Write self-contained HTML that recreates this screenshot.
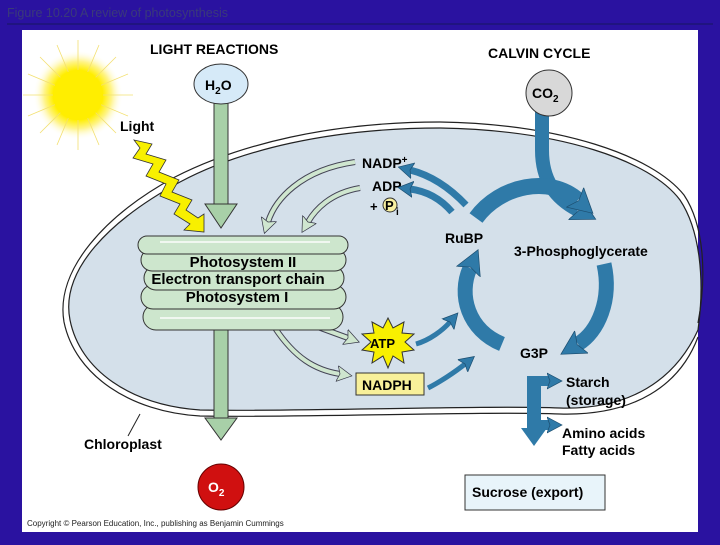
<!DOCTYPE html>
<html><head><meta charset="utf-8"><style>
body{margin:0;width:720px;height:540px;background:#2a12a0;overflow:hidden;font-family:"Liberation Sans",Arial,sans-serif}
</style></head><body>
<svg width="720" height="540" viewBox="0 0 720 540" xmlns="http://www.w3.org/2000/svg" font-family="Liberation Sans, Arial, sans-serif">
<defs>
<radialGradient id="sun"><stop offset="0.55" stop-color="#ffee00"/><stop offset="0.75" stop-color="#fff48a"/><stop offset="1" stop-color="#ffffff" stop-opacity="0"/></radialGradient>
<marker id="bh" markerUnits="userSpaceOnUse" markerWidth="30" markerHeight="30" refX="4" refY="15" orient="auto"><path d="M0,2 L24,15 L0,28 L5,15Z" fill="#2f7aa8" stroke="#1c4e70" stroke-width="0.7"/></marker>
<marker id="sh" markerUnits="userSpaceOnUse" markerWidth="18" markerHeight="18" refX="3" refY="9" orient="auto"><path d="M0,1 L15,9 L0,17 L3,9Z" fill="#2f7aa8" stroke="#1c4e70" stroke-width="0.7"/></marker>
<marker id="gh" markerUnits="userSpaceOnUse" markerWidth="18" markerHeight="18" refX="3" refY="9" orient="auto"><path d="M0,1 L15,9 L0,17 L3,9Z" fill="#cfe6cf" stroke="#334" stroke-width="0.7"/></marker>
</defs>
<rect width="720" height="540" fill="#2a12a0"/>
<text x="7" y="17" font-size="12.5" fill="#3a3a7a">Figure 10.20  A review of photosynthesis</text>
<line x1="7" y1="24" x2="713" y2="24" stroke="#161660" stroke-width="1"/>
<rect x="22" y="30" width="676" height="502" fill="#fff"/>
<circle cx="78" cy="95" r="45" fill="url(#sun)"/>
<g stroke="#f3e070" stroke-width="0.8">
<line x1="78" y1="40" x2="78" y2="150"/><line x1="23" y1="95" x2="133" y2="95"/>
<line x1="40" y1="57" x2="116" y2="133"/><line x1="116" y1="57" x2="40" y2="133"/>
<line x1="57" y1="45" x2="99" y2="145"/><line x1="99" y1="45" x2="57" y2="145"/>
<line x1="28" y1="74" x2="128" y2="116"/><line x1="128" y1="74" x2="28" y2="116"/>
</g>
<circle cx="78" cy="95" r="25" fill="#ffee00"/>
<path d="M698,330 C705,280 700,230 680,200 C650,160 560,130 440,128 C330,128 240,150 180,182 C110,220 60,270 70,320 C80,370 130,405 200,410 C300,412 480,405 560,408 C630,410 675,380 698,330 Z" fill="#d4e0ea"/>
<path d="M698,323 C707,275 704,225 684,195 C652,155 560,124 440,122 C330,122 240,144 175,177 C105,215 55,270 64,322 C75,375 130,412 200,416 C300,418 480,411 560,414 C635,416 680,385 698,337" fill="none" stroke="#222" stroke-width="1.2"/>
<path d="M698,330 C705,280 700,230 680,200 C650,160 560,130 440,128 C330,128 240,150 180,182 C110,220 60,270 70,320 C80,370 130,405 200,410 C300,412 480,405 560,408 C630,410 675,380 698,330" fill="none" stroke="#222" stroke-width="1.2"/>
<line x1="140" y1="414" x2="128" y2="436" stroke="#222" stroke-width="1"/>
<text x="84" y="449" font-size="14" font-weight="bold">Chloroplast</text>
<text x="150" y="54" font-size="14" font-weight="bold">LIGHT REACTIONS</text>
<text x="488" y="58" font-size="14" font-weight="bold">CALVIN CYCLE</text>
<rect x="214" y="100" width="14" height="105" fill="#a8d0a8" stroke="#333"/>
<path d="M205,204 L237,204 L221,228Z" fill="#a8d0a8" stroke="#333"/>
<ellipse cx="221" cy="84" rx="27" ry="20" fill="#d6eaf8" stroke="#333"/>
<text x="205" y="90" font-size="14" font-weight="bold">H<tspan font-size="10" dy="4">2</tspan><tspan dy="-4">O</tspan></text>
<rect x="214" y="325" width="14" height="95" fill="#a8d0a8" stroke="#333"/>
<path d="M205,418 L237,418 L221,440Z" fill="#a8d0a8" stroke="#333"/>
<circle cx="221" cy="487" r="23" fill="#d01010" stroke="#600"/>
<text x="208" y="492" font-size="14" font-weight="bold" fill="#fff">O<tspan font-size="10" dy="4">2</tspan></text>
<text x="120" y="131" font-size="14" font-weight="bold">Light</text>
<path d="M134,140 L152,144 L146,154 L166,160 L159,172 L179,180 L172,192 L192,200 L186,210 L198,218 L204,214 L204,232 L184,230 L190,224 L174,214 L180,204 L160,196 L166,184 L146,176 L153,164 L133,158 L140,148 Z" fill="#f8f000" stroke="#333" stroke-width="0.8"/>
<g fill="none" stroke-linecap="butt">
<path d="M355,162 C300,170 275,200 268,222" stroke="#445" stroke-width="6"/>
<path d="M355,162 C300,170 275,200 268,222" stroke="#cfe6cf" stroke-width="4" marker-end="url(#gh)"/>
<path d="M360,188 C330,193 315,210 308,222" stroke="#445" stroke-width="6"/>
<path d="M360,188 C330,193 315,210 308,222" stroke="#cfe6cf" stroke-width="4" marker-end="url(#gh)"/>
<path d="M318,327 L348,338" stroke="#445" stroke-width="6"/>
<path d="M318,327 L348,338" stroke="#cfe6cf" stroke-width="4" marker-end="url(#gh)"/>
<path d="M275,328 C295,358 315,370 340,374" stroke="#445" stroke-width="6"/>
<path d="M275,328 C295,358 315,370 340,374" stroke="#cfe6cf" stroke-width="4" marker-end="url(#gh)"/>
</g>
<g fill="#cde6cd" stroke="#333" stroke-width="1">
<rect x="143" y="304" width="200" height="26" rx="13"/>
<rect x="141" y="285" width="205" height="24" rx="12"/>
<rect x="144" y="266" width="200" height="24" rx="12"/>
<rect x="141" y="249" width="205" height="22" rx="11"/>
<rect x="138" y="236" width="210" height="18" rx="9"/>
</g>
<g stroke="#fff" stroke-width="2" opacity="0.7"><line x1="160" y1="242" x2="330" y2="242"/><line x1="160" y1="318" x2="330" y2="318"/></g>
<text x="243" y="267" font-size="15" font-weight="bold" text-anchor="middle">Photosystem II</text>
<text x="238" y="284" font-size="15" font-weight="bold" text-anchor="middle">Electron transport chain</text>
<text x="237" y="302" font-size="15" font-weight="bold" text-anchor="middle">Photosystem I</text>
<text x="362" y="168" font-size="14" font-weight="bold">NADP<tspan font-size="10" dy="-5">+</tspan></text>
<text x="372" y="191" font-size="14" font-weight="bold">ADP</text>
<text x="370" y="211" font-size="13" font-weight="bold">+</text>
<circle cx="390" cy="205" r="7" fill="#f8f0a0" stroke="#333"/>
<text x="385" y="210" font-size="13" font-weight="bold">P</text>
<text x="396" y="215" font-size="10" font-weight="bold">i</text>
<polygon points="388,318 393,328 404,322 402,333 414,334 405,342 414,350 402,352 404,363 393,356 388,368 383,356 372,363 374,352 362,350 371,342 362,334 374,333 372,322 383,328" fill="#f8f000" stroke="#333"/>
<text x="370" y="348" font-size="13" font-weight="bold">ATP</text>
<rect x="356" y="373" width="68" height="22" fill="#f8f09a" stroke="#333"/>
<text x="362" y="390" font-size="14" font-weight="bold">NADPH</text>
<g fill="none" stroke="#2f7aa8">
<path d="M542,100 L542,150 C542,180 555,198 578,210" stroke-width="14" marker-end="url(#bh)"/>
<path d="M476,218 C500,185 550,175 578,200" stroke-width="16" marker-end="url(#bh)"/>
<path d="M604,264 C612,300 598,332 578,344" stroke-width="15" marker-end="url(#bh)"/>
<path d="M502,344 C468,330 458,295 470,268" stroke-width="15" marker-end="url(#bh)"/>
<path d="M466,205 C448,186 430,175 410,170" stroke-width="7" marker-end="url(#sh)"/>
<path d="M452,212 C440,198 426,191 410,189" stroke-width="7" marker-end="url(#sh)"/>
<path d="M416,344 C430,340 443,330 450,322" stroke-width="5" marker-end="url(#sh)"/>
<path d="M428,388 C440,382 455,372 465,364" stroke-width="5" marker-end="url(#sh)"/>
<path d="M534,376 L534,428" stroke-width="14"/>
<path d="M540,381 L550,381" stroke-width="10" marker-end="url(#sh)"/>
<path d="M540,425 L550,425" stroke-width="10" marker-end="url(#sh)"/>
</g>
<path d="M521,428 L547,428 L534,446Z" fill="#2f7aa8"/>
<circle cx="549" cy="93" r="23" fill="#d8d8d8" stroke="#333"/>
<text x="532" y="98" font-size="14" font-weight="bold">CO<tspan font-size="10" dy="4">2</tspan></text>
<text x="445" y="243" font-size="14" font-weight="bold">RuBP</text>
<text x="514" y="256" font-size="14" font-weight="bold">3-Phosphoglycerate</text>
<text x="520" y="358" font-size="14" font-weight="bold">G3P</text>
<text x="566" y="387" font-size="14" font-weight="bold">Starch</text>
<text x="566" y="405" font-size="14" font-weight="bold">(storage)</text>
<text x="562" y="438" font-size="14" font-weight="bold">Amino acids</text>
<text x="562" y="455" font-size="14" font-weight="bold">Fatty acids</text>
<rect x="465" y="475" width="140" height="35" fill="#e8f4fa" stroke="#333"/>
<text x="472" y="497" font-size="14" font-weight="bold">Sucrose (export)</text>
<text x="27" y="526" font-size="8" fill="#222">Copyright © Pearson Education, Inc., publishing as Benjamin Cummings</text>
</svg>
</body></html>
